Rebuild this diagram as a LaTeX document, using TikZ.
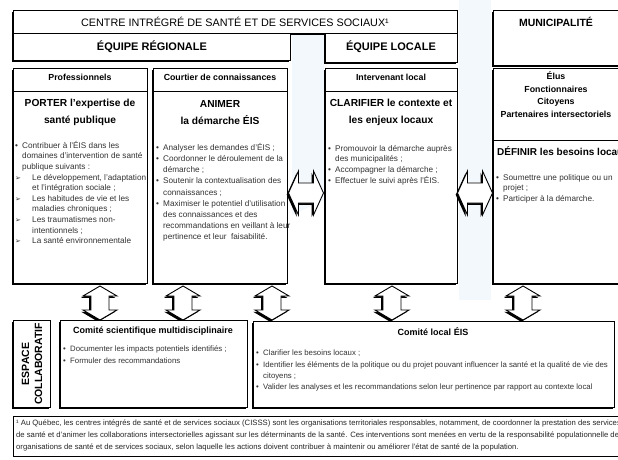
\documentclass[tikz,border=0pt]{standalone}
\usepackage{fontspec}
\setmainfont{Liberation Sans}
\newfontfamily\djv{DejaVu Sans}
\usetikzlibrary{shadows,calc}
\definecolor{wm}{RGB}{243,248,252}
\newcommand\blt{\makebox[7pt][l]{•}}
\newcommand\bind{\hspace*{7pt}}
\newcommand\arw{\makebox[17pt][l]{\djv\fontsize{7}{7}\selectfont ➢}}
\newcommand\arind{\hspace*{17pt}}
\tikzset{
  frame/.style={draw=black, line width=0.9pt, fill=white,
    drop shadow={shadow xshift=-1.8pt, shadow yshift=-1.8pt, opacity=1, fill=black}},
  panel/.style={frame, anchor=north west, inner sep=0pt},
  hd/.style={font=\fontsize{8.8}{12.5}\selectfont\bfseries, align=center, inner sep=0pt},
  big/.style={font=\fontsize{10.2}{17}\selectfont\bfseries, align=center, inner sep=0pt},
  small/.style={font=\fontsize{8.2}{10.6}\selectfont, align=left, anchor=north west, inner sep=0pt, text=black!80},
  csmall/.style={small, font=\fontsize{7.8}{11.3}\selectfont},
  vdarr/.pic={\path[frame] (0,-17) -- (17,-7) -- (9,-7) -- (9,7) -- (17,7) -- (0,17) -- (-17,7) -- (-9,7) -- (-9,-7) -- (-17,-7) -- cycle;},
  hdarr/.pic={\path[frame] (-17.5,0) -- (-7.5,-22) -- (-7.5,-10) -- (7.5,-10) -- (7.5,-22) -- (17.5,0) -- (7.5,22) -- (7.5,10) -- (-7.5,10) -- (-7.5,22) -- cycle;},
}
\begin{document}
\begin{tikzpicture}[x=1pt,y=-1pt]
\useasboundingbox (0,0) rectangle (618,460);
\clip (0,0) rectangle (618,460);
\fill[white] (0,0) rectangle (618,460);
% faint background watermark
\fill[wm] (459,0) rectangle (491,300);
\fill[wm] (292,33) -- (324,33) -- (324,200) -- (292,215) -- cycle;

% top row
\node[panel, minimum width=444pt, minimum height=23pt] (centre) at (13,10) {};
\node[font=\fontsize{10.8}{12}\selectfont, inner sep=0pt] at (235,21.5) {CENTRE INTRÉGRÉ DE SANTÉ ET DE SERVICES SOCIAUX¹};
\node[panel, minimum width=277pt, minimum height=27pt] (eqreg) at (13,33) {};
\node[font=\fontsize{11}{12}\selectfont\bfseries, inner sep=0pt] at (eqreg.center) {ÉQUIPE RÉGIONALE};
\node[panel, minimum width=132pt, minimum height=29pt] (eqloc) at (325,33) {};
\node[font=\fontsize{11}{12}\selectfont\bfseries, inner sep=0pt] at (391,47) {ÉQUIPE LOCALE};
\node[panel, minimum width=140pt, minimum height=55pt] (muni) at (493,10) {};
\node[font=\fontsize{10.5}{12}\selectfont\bfseries, inner sep=0pt] at (556,22) {MUNICIPALITÉ};

% second row
\node[panel, minimum width=134pt, minimum height=215pt] (prof) at (13,68) {};
\node[panel, minimum width=134pt, minimum height=215pt] (court) at (153,68) {};
\node[panel, minimum width=132pt, minimum height=215pt] (inter) at (325,68) {};
\node[panel, minimum width=140pt, minimum height=215pt] (mun2) at (493,68) {};
\draw[line width=0.9pt] (prof.west |- 0,91) -- (prof.east |- 0,91);
\draw[line width=0.9pt] (court.west |- 0,91) -- (court.east |- 0,91);
\draw[line width=0.9pt] (inter.west |- 0,91) -- (inter.east |- 0,91);
\draw[line width=0.9pt] (mun2.west |- 0,140) -- (mun2.east |- 0,140);

\node[hd] at (80,77.5) {Professionnels};
\node[hd] at (220,77.5) {Courtier de connaissances};
\node[hd] at (391,77.5) {Intervenant local};
\node[hd, anchor=north] at (556,72) {Élus\\Fonctionnaires\\Citoyens\\Partenaires intersectoriels};

\node[big] at (80,112.5) {PORTER l'expertise de\\santé publique};
\node[big] at (220,112.5) {ANIMER\\la démarche ÉIS};
\node[big] at (391,112.5) {CLARIFIER le contexte et\\les enjeux locaux};
\node[font=\fontsize{10}{11}\selectfont\bfseries, anchor=west, inner sep=0pt] at (497,151) {DÉFINIR les besoins locaux};

\node[small] at (15,141) {\blt Contribuer à l'ÉIS dans les\\\bind domaines d'intervention de santé\\\bind publique suivants :\\
\arw Le développement, l'adaptation\\\arind et l'intégration sociale ;\\
\arw Les habitudes de vie et les\\\arind maladies chroniques ;\\
\arw Les traumatismes non-\\\arind intentionnels ;\\
\arw La santé environnementale};
\node[small, font=\fontsize{8.2}{11.2}\selectfont] at (156,143) {\blt Analyser les demandes d'ÉIS ;\\
\blt Coordonner le déroulement de la\\\bind démarche ;\\
\blt Soutenir la contextualisation des\\\bind connaissances ;\\
\blt Maximiser le potentiel d'utilisation\\\bind des connaissances et des\\\bind recommandations en veillant à leur\\\bind pertinence et leur~ faisabilité.};
\node[small] at (328,145) {\blt Promouvoir la démarche auprès\\\bind des municipalités ;\\
\blt Accompagner la démarche ;\\
\blt Effectuer le suivi après l'ÉIS.};
\node[small] at (496,174) {\blt Soumettre une politique ou un\\\bind projet ;\\
\blt Participer à la démarche.};

% horizontal double arrows
\pic at (306,193) {hdarr};
\pic at (475,193) {hdarr};

% vertical double arrows
\pic at (100,303) {vdarr};
\pic at (183,303) {vdarr};
\pic at (272,303) {vdarr};
\pic at (392,303) {vdarr};
\pic at (523,303) {vdarr};

% third row
\node[panel, minimum width=37pt, minimum height=87pt] (espace) at (13,320) {};
\node[font=\fontsize{10.5}{13}\selectfont\bfseries, rotate=90, align=center, inner sep=0pt] at (espace.center) {ESPACE\\COLLABORATIF};
\node[panel, minimum width=187pt, minimum height=87pt] (sci) at (60,320) {};
\node[font=\fontsize{9}{10}\selectfont\bfseries, inner sep=0pt] at (153,331) {Comité scientifique multidisciplinaire};
\node[csmall] at (63,346) {\blt Documenter les impacts potentiels identifiés ;\\\blt Formuler des recommandations};
\node[panel, minimum width=361pt, minimum height=86pt] (loc) at (253,321) {};
\node[font=\fontsize{9}{10}\selectfont\bfseries, inner sep=0pt] at (433,332) {Comité local ÉIS};
\node[csmall] at (256,350) {\blt Clarifier les besoins locaux ;\\
\blt Identifier les éléments de la politique ou du projet pouvant influencer la santé et la qualité de vie des\\\bind citoyens ;\\
\blt Valider les analyses et les recommandations selon leur pertinence par rapport au contexte local};

% footnote
\node[draw=black, line width=0.8pt, anchor=north west, minimum width=640pt, minimum height=40pt, inner sep=0pt] (foot) at (13,416) {};
\node[font=\fontsize{7.7}{11.8}\selectfont, align=left, anchor=north west, inner sep=0pt, text=black!85] at (16,420) {¹ Au Québec, les centres intégrés de santé et de services sociaux (CISSS) sont les organisations territoriales responsables, notamment, de coordonner la prestation des services\\
de santé et d'animer les collaborations intersectorielles agissant sur les déterminants de la santé. Ces interventions sont menées en vertu de la responsabilité populationnelle des\\
organisations de santé et de services sociaux, selon laquelle les actions doivent contribuer à maintenir ou améliorer l'état de santé de la population.};
\end{tikzpicture}
\end{document}
